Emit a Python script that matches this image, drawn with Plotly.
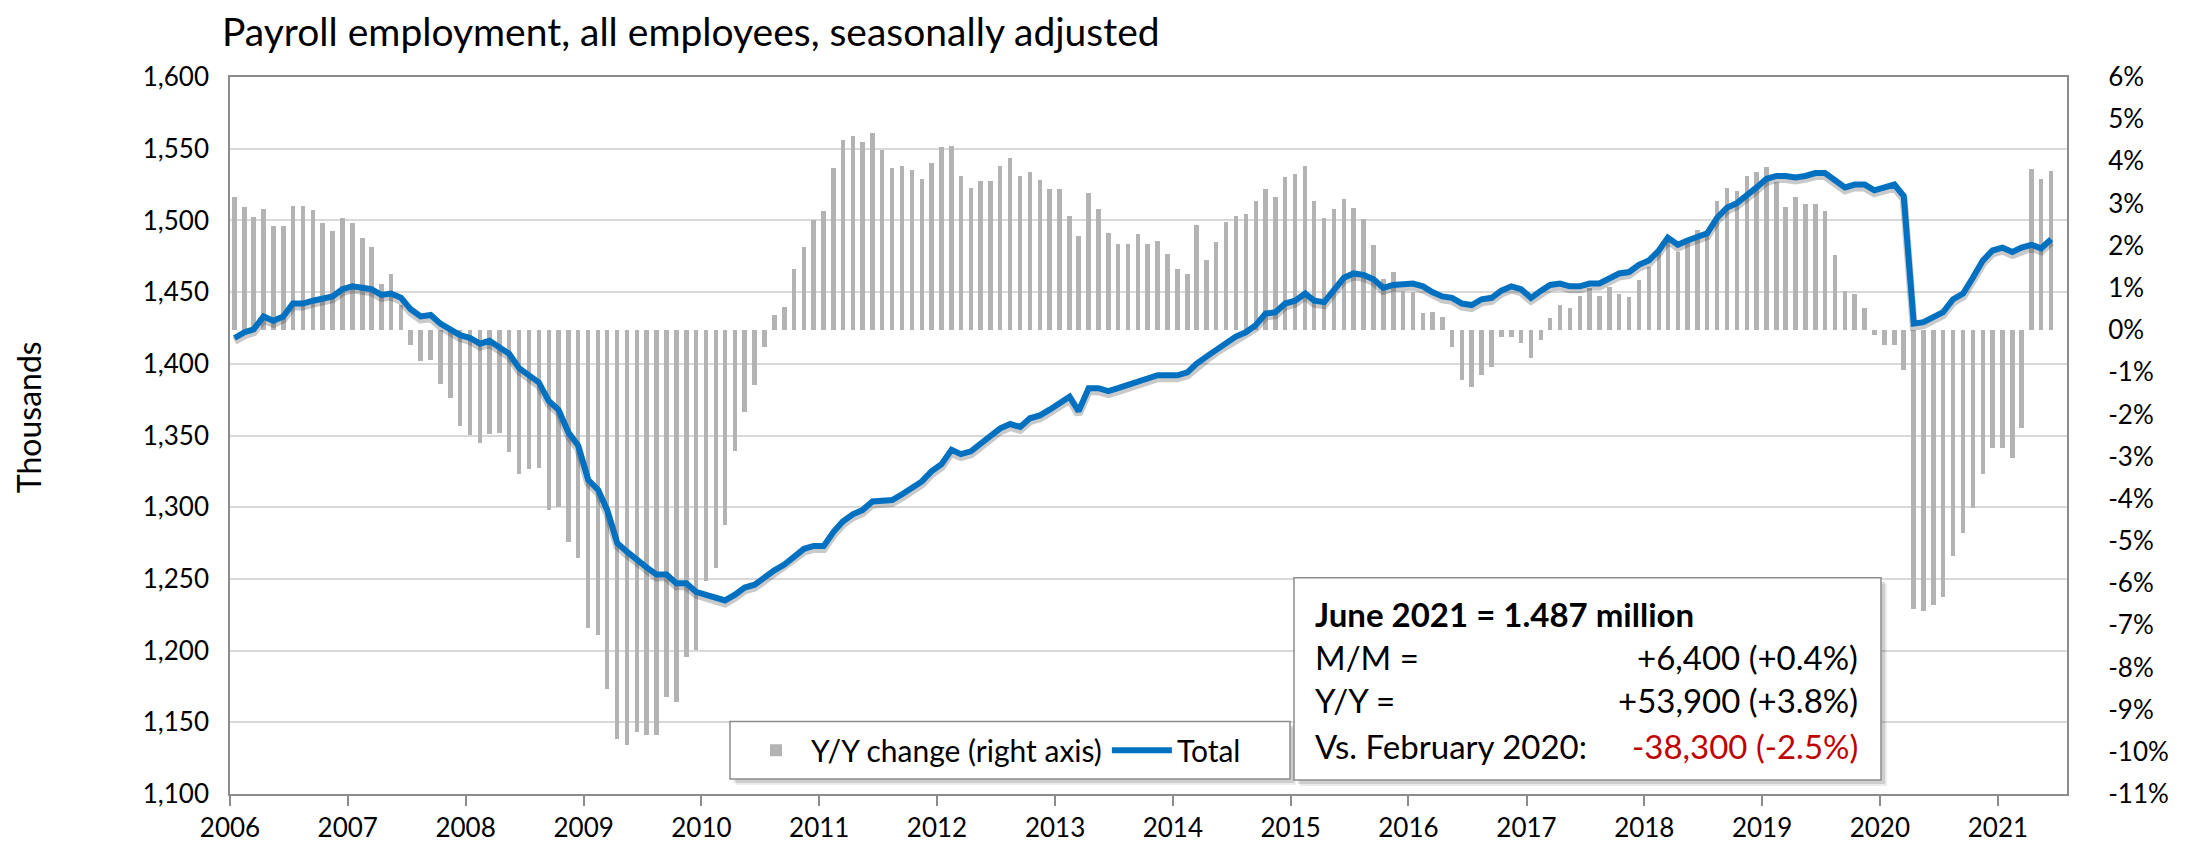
import plotly.graph_objects as go
import pandas as pd

# ---------------- data ----------------
months = pd.date_range("2006-01-01", periods=186, freq="MS").strftime("%Y-%m-%d").tolist()

total = [
    1418, 1422, 1424, 1433, 1430, 1433, 1442, 1442, 1444, 1446, 1447, 1452,   # 2006
    1454, 1453, 1452, 1448, 1449, 1446, 1438, 1433, 1434, 1428, 1424, 1420,   # 2007
    1418, 1414, 1416, 1412, 1407, 1397, 1392, 1387, 1374, 1368, 1352, 1343,   # 2008
    1319, 1312, 1298, 1275, 1269, 1263, 1258, 1253, 1253, 1247, 1247, 1241,   # 2009
    1239, 1237, 1235, 1239, 1244, 1246, 1251, 1256, 1260, 1265, 1271, 1273,   # 2010
    1273, 1283, 1290, 1295, 1298, 1304, 1305, 1305, 1309, 1313, 1318, 1325,   # 2011
    1330, 1340, 1337, 1339, 1344, 1349, 1355, 1358, 1356, 1362, 1364, 1368,   # 2012
    1373, 1377, 1367, 1383, 1383, 1381, 1383, 1385, 1388, 1389, 1392, 1392,   # 2013
    1392, 1394, 1400, 1405, 1410, 1414, 1419, 1422, 1427, 1435, 1436, 1442,   # 2014
    1444, 1449, 1444, 1443, 1451, 1460, 1463, 1462, 1459, 1453, 1455, 1456,   # 2015
    1456, 1454, 1450, 1447, 1446, 1442, 1441, 1445, 1446, 1451, 1454, 1452,   # 2016
    1446, 1451, 1455, 1456, 1454, 1454, 1456, 1456, 1459, 1463, 1464, 1469,   # 2017
    1472, 1479, 1488, 1483, 1486, 1488, 1491, 1502, 1509, 1512, 1517, 1523,   # 2018
    1529, 1531, 1531, 1530, 1531, 1533, 1533, 1528, 1523, 1525, 1525, 1521,   # 2019
    1523, 1525, 1517, 1428, 1429, 1433, 1436, 1445, 1449, 1460, 1472, 1479,   # 2020
    1481, 1478, 1481, 1483, 1480.6, 1486.9,                                   # 2021
]

yoy = [
    3.15, 2.92, 2.68, 2.86, 2.47, 2.47, 2.93, 2.93, 2.85, 2.53, 2.36, 2.66,
    2.55, 2.18, 1.97, 1.09, 1.33, 0.60, -0.35, -0.74, -0.72, -1.27, -1.62, -2.27,
    -2.49, -2.68, -2.47, -2.44, -2.90, -3.42, -3.30, -3.27, -4.27, -4.19, -5.02, -5.40,
    -7.07, -7.23, -8.51, -9.70, -9.84, -9.53, -9.61, -9.59, -8.70, -8.81, -7.74, -7.59,
    -5.96, -5.65, -4.63, -2.86, -1.94, -1.31, -0.39, 0.35, 0.55, 1.44, 1.96, 2.61,
    2.83, 3.85, 4.51, 4.59, 4.46, 4.68, 4.26, 3.84, 3.90, 3.79, 3.57, 3.97,
    4.35, 4.36, 3.66, 3.36, 3.53, 3.53, 3.88, 4.07, 3.65, 3.74, 3.56, 3.34,
    3.34, 2.71, 2.22, 3.26, 2.86, 2.31, 2.05, 2.05, 2.28, 2.04, 2.10, 1.81,
    1.44, 1.33, 2.48, 1.67, 2.08, 2.57, 2.71, 2.75, 3.05, 3.35, 3.16, 3.64,
    3.70, 3.88, 3.05, 2.66, 2.88, 3.10, 2.90, 2.63, 2.01, 1.22, 1.37, 0.92,
    0.90, 0.40, 0.43, 0.32, -0.39, -1.18, -1.35, -1.07, -0.88, -0.16, -0.17, -0.30,
    -0.66, -0.24, 0.28, 0.59, 0.52, 0.80, 1.00, 0.81, 1.03, 0.86, 0.78, 1.19,
    1.50, 1.90, 2.16, 1.86, 2.08, 2.38, 2.35, 3.07, 3.38, 3.30, 3.66, 3.75,
    3.86, 3.51, 2.92, 3.16, 2.99, 2.99, 2.83, 1.77, 0.92, 0.86, 0.52, -0.11,
    -0.35, -0.35, -0.94, -6.62, -6.65, -6.52, -6.34, -5.35, -4.80, -4.21, -3.41, -2.79,
    -2.79, -3.03, -2.33, 3.82, 3.57, 3.77,
]

left_ticks = list(range(1100, 1601, 50))
left_labels = [f"{v:,}" for v in left_ticks]
right_ticks = list(range(-11, 7))
right_labels = [f"{v}%" for v in right_ticks]

title_text = "Payroll employment, all employees, seasonally adjusted"
box_lines = [
    ("M/M =", "+6,400 (+0.4%)", "#000000"),
    ("Y/Y =", "+53,900 (+3.8%)", "#000000"),
    ("Vs. February 2020:", "-38,300 (-2.5%)", "#C00000"),
]
box_header = "<b>June 2021 = 1.487 million</b>"

# ---------------- layout geometry ----------------
W, H = 2190, 847
L, R, T, B = 222, 131, 69, 55
PW, PH = W - L - R, H - T - B
FONT = "Lato, 'Noto Sans', sans-serif"
x_range = ["2006-01-01", "2021-08-03"]
y_range = [1100, 1600]


def px_x(px):
    return (px - L) / PW


def px_y(py):
    return (H - B - py) / PH


# line shadow: same data on an invisible overlay axis whose range is nudged a few px
sh_px = 3
dy = (y_range[1] - y_range[0]) * sh_px / PH
y_shadow_range = [y_range[0] + dy, y_range[1] + dy]

# bar/line dates: middle of each month
mid_months = (pd.to_datetime(months) + pd.Timedelta(days=14)).strftime("%Y-%m-%d").tolist()
bar_width_ms = 14 * 24 * 3600 * 1000

fig = go.Figure()
# base subplot (x, y): Y/Y bars on the right-hand % axis
fig.add_trace(go.Bar(
    x=mid_months, y=yoy, xaxis="x", yaxis="y", name="Y/Y change (right axis)",
    marker=dict(color="#b3b3b3", line=dict(width=0)), width=bar_width_ms,
))
# shadow of the total line
fig.add_trace(go.Scatter(
    x=mid_months, y=total, xaxis="x", yaxis="y2", mode="lines", showlegend=False,
    hoverinfo="skip", line=dict(color="rgba(40,40,40,0.25)", width=8),
))
# total line on the left-hand thousands axis
fig.add_trace(go.Scatter(
    x=mid_months, y=total, xaxis="x", yaxis="y3", mode="lines", name="Total",
    line=dict(color="#0070C0", width=6),
))

axis_line = "#8c8c8c"
tickfont = dict(family=FONT, size=26, color="#000000")

shapes = []
def box(px0, py0, px1, py1):
    for off, a in ((6, 0.08), (4, 0.12)):
        shapes.append(dict(type="rect", xref="paper", yref="paper",
                           x0=px_x(px0 + off), x1=px_x(px1 + off), y0=px_y(py1 + off), y1=px_y(py0 + off),
                           fillcolor=f"rgba(0,0,0,{a})", line=dict(width=0), layer="above"))
    shapes.append(dict(type="rect", xref="paper", yref="paper",
                       x0=px_x(px0), x1=px_x(px1), y0=px_y(py1), y1=px_y(py0),
                       fillcolor="white", line=dict(color="#8c8c8c", width=1.5), layer="above"))

box(722, 719, 1282, 777)
box(1286, 574, 1873, 778)

annotations = [
    dict(text="Thousands", xref="paper", yref="paper", x=px_x(20), y=px_y(412), textangle=-90,
         showarrow=False, font=dict(family=FONT, size=32, color="#000"), xanchor="center", yanchor="middle"),
    dict(text=box_header, xref="paper", yref="paper", x=px_x(1305), y=px_y(610),
         showarrow=False, xanchor="left", yanchor="middle", font=dict(family=FONT, size=33, color="#000")),
]
row_y = [654, 697, 744]
for (lab, val, col), ry in zip(box_lines, row_y):
    annotations.append(dict(text=lab, xref="paper", yref="paper", x=px_x(1305), y=px_y(ry),
                            showarrow=False, xanchor="left", yanchor="middle",
                            font=dict(family=FONT, size=33, color="#000")))
    annotations.append(dict(text=val, xref="paper", yref="paper", x=px_x(1852), y=px_y(ry),
                            showarrow=False, xanchor="right", yanchor="middle",
                            font=dict(family=FONT, size=33, color=col)))

fig.update_layout(
    width=W, height=H,
    margin=dict(l=L, r=R, t=T, b=B, pad=0),
    paper_bgcolor="white", plot_bgcolor="white",
    font=dict(family=FONT, color="#000"),
    title=dict(text=title_text, x=214 / W, xref="container", xanchor="left",
               y=1 - 24 / H, yref="container", yanchor="middle",
               font=dict(family=FONT, size=39, color="#000")),
    bargap=0,
    showlegend=True,
    legend=dict(orientation="h", x=px_x(733), y=px_y(748), xanchor="left", yanchor="middle",
                bgcolor="rgba(0,0,0,0)", borderwidth=0, itemwidth=60,
                font=dict(family=FONT, size=30, color="#000")),
    xaxis=dict(type="date", range=x_range, tick0="2006-01-01", dtick="M12", tickformat="%Y",
               ticks="outside", ticklen=10, tickwidth=2, tickcolor=axis_line,
               showline=True, linecolor=axis_line, linewidth=2, mirror=True,
               showgrid=False, zeroline=False, tickfont=tickfont),
    yaxis=dict(side="right", range=[-11, 6], tickvals=right_ticks, ticktext=right_labels,
               showgrid=False, zeroline=False, showline=True, linecolor=axis_line, linewidth=2,
               mirror=True, ticks="", ticklabelstandoff=34, tickfont=tickfont),
    yaxis2=dict(overlaying="y", range=y_shadow_range, visible=False, showgrid=False),
    yaxis3=dict(overlaying="y", side="left", range=y_range, tickvals=left_ticks, ticktext=left_labels,
                showgrid=True, gridcolor="#d9d9d9", gridwidth=2, zeroline=False,
                showline=False, ticks="", ticklabelstandoff=20, tickfont=tickfont),
    shapes=shapes,
    annotations=annotations,
)

fig.write_html("out.html")
